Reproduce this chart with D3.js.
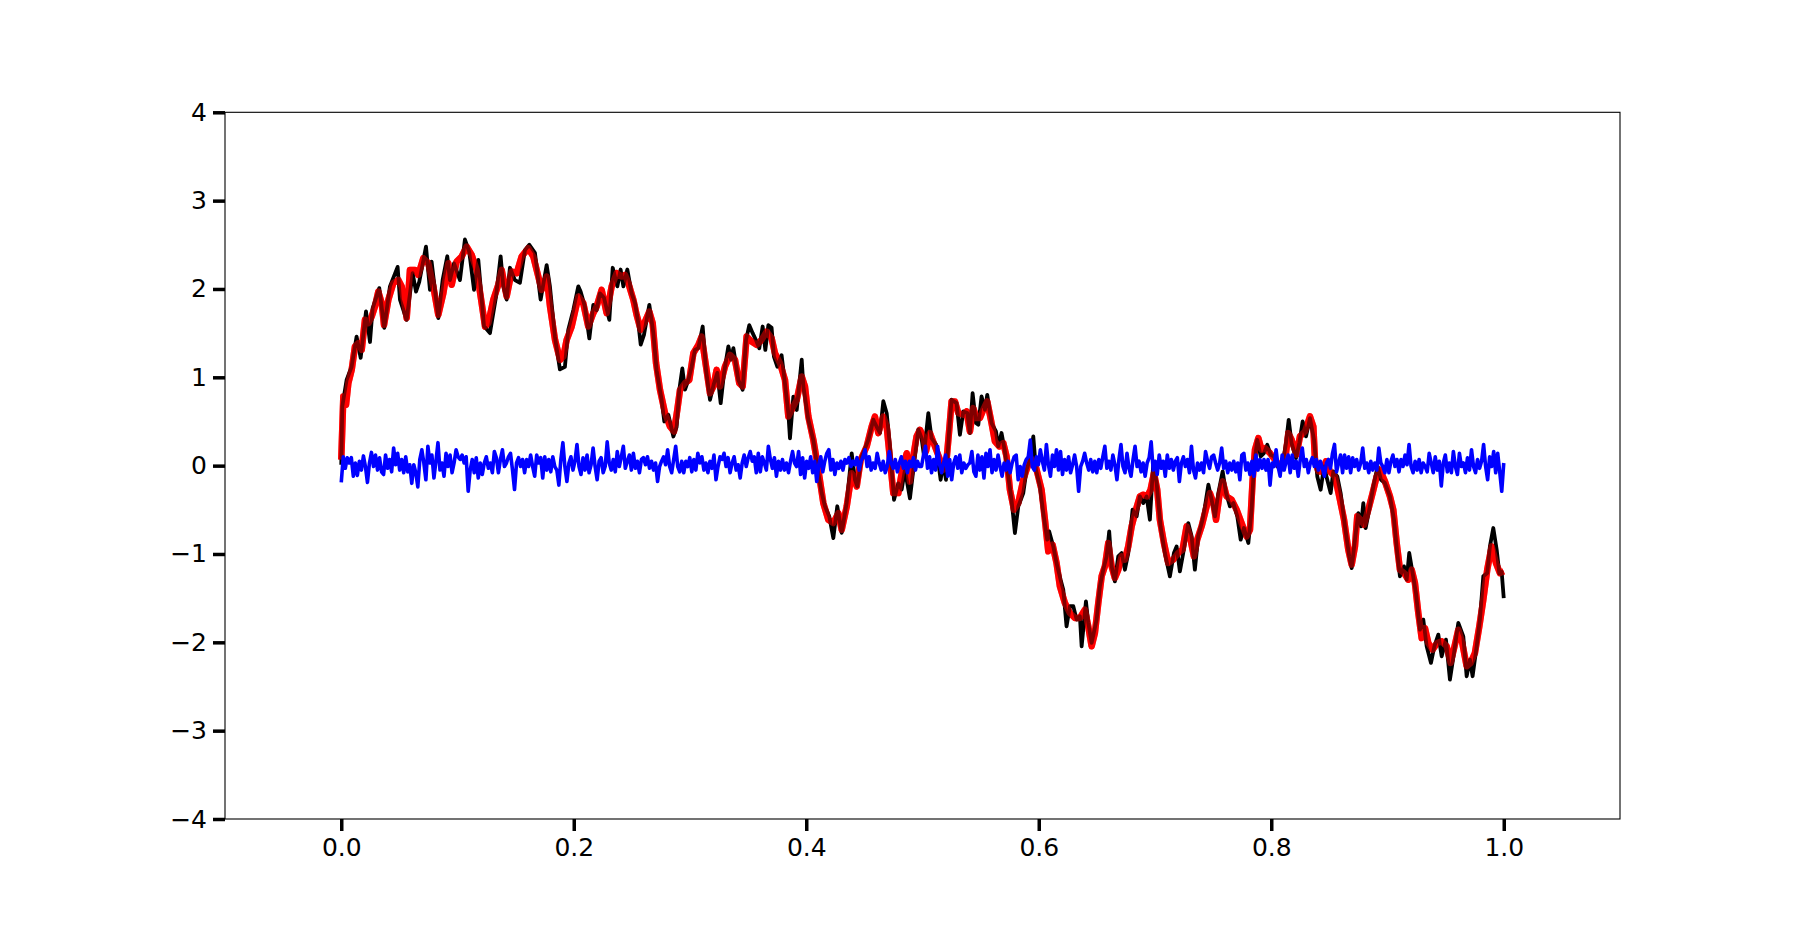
<!DOCTYPE html>
<html>
<head>
<meta charset="utf-8">
<script src="https://cdn.jsdelivr.net/npm/d3@7"></script>
<style>
  html, body { margin: 0; padding: 0; background: #fff; }
  svg { display: block; }
  .tick text { font-family: "DejaVu Sans", sans-serif; font-size: 25px; fill: #000; }
</style>
</head>
<body>
<div class="visualisation"></div>
<script>
// figure size and matplotlib-like subplot box
const wdth = 1800;
const hght = 936;
const margin = {left: 225, right: 180, top: 112.3, bottom: 117};

// tick values
const xTicks = [0.0, 0.2, 0.4, 0.6, 0.8, 1.0];
const yTicks = [-4, -3, -2, -1, 0, 1, 2, 3, 4];

// smoothed estimate (red) as [t, value]
const redPts = [
  [0, 0.067], [0.0018, 0.783], [0.0041, 0.689], [0.0061, 0.934], [0.0090, 1.085], [0.0118, 1.349],
  [0.0147, 1.387], [0.0176, 1.311], [0.0204, 1.651], [0.0233, 1.613], [0.0262, 1.688], [0.0290, 1.802],
  [0.0319, 1.971], [0.0348, 1.839], [0.0368, 1.594], [0.0405, 1.877], [0.0448, 2.066], [0.0491, 2.103],
  [0.0520, 2.028], [0.0563, 1.670], [0.0591, 2.216], [0.0634, 2.216], [0.0663, 2.160], [0.0706, 2.348],
  [0.0749, 2.292], [0.0792, 2.028], [0.0835, 1.707], [0.0878, 1.952], [0.0921, 2.292], [0.0950, 2.047],
  [0.0993, 2.311], [0.1036, 2.367], [0.1079, 2.480], [0.1122, 2.386], [0.1165, 2.216], [0.1208, 1.839],
  [0.1237, 1.575], [0.1265, 1.613], [0.1308, 1.877], [0.1351, 2.047], [0.1380, 2.216], [0.1423, 1.915],
  [0.1466, 2.198], [0.1509, 2.179], [0.1552, 2.367], [0.1609, 2.461], [0.1652, 2.367], [0.1695, 2.141],
  [0.1724, 1.990], [0.1767, 2.141], [0.1796, 1.802], [0.1839, 1.424], [0.1882, 1.198], [0.1911, 1.236],
  [0.1939, 1.424], [0.1982, 1.575], [0.2040, 1.915], [0.2082, 1.839], [0.2125, 1.575], [0.2168, 1.726],
  [0.2197, 1.802], [0.2240, 1.990], [0.2283, 1.726], [0.2326, 2.028], [0.2369, 2.179], [0.2412, 2.141],
  [0.2441, 2.160], [0.2470, 2.065], [0.2513, 1.876], [0.2541, 1.707], [0.2576, 1.537], [0.2613, 1.631],
  [0.2650, 1.744], [0.2679, 1.612], [0.2708, 1.160], [0.2742, 0.858], [0.2785, 0.594], [0.2828, 0.443],
  [0.2862, 0.387], [0.2891, 0.632], [0.2914, 0.858], [0.2957, 0.934], [0.2994, 0.971], [0.3029, 1.273],
  [0.3072, 1.367], [0.3100, 1.461], [0.3138, 1.122], [0.3172, 0.820], [0.3201, 0.896], [0.3229, 1.084],
  [0.3258, 0.896], [0.3301, 1.122], [0.3344, 1.254], [0.3387, 1.197], [0.3424, 0.934], [0.3453, 0.896],
  [0.3487, 1.461], [0.3530, 1.405], [0.3573, 1.367], [0.3616, 1.424], [0.3659, 1.518], [0.3702, 1.443],
  [0.3731, 1.273], [0.3774, 1.160], [0.3817, 0.971], [0.3846, 0.556], [0.3875, 0.632], [0.3918, 0.745],
  [0.3961, 1.009], [0.3989, 0.896], [0.4018, 0.556], [0.4061, 0.292], [0.4104, -0.047], [0.4147, -0.424],
  [0.4190, -0.613], [0.4233, -0.650], [0.4276, -0.537], [0.4305, -0.726], [0.4348, -0.462], [0.4391, -0.085],
  [0.4434, -0.235], [0.4468, 0.066], [0.4520, 0.217], [0.4563, 0.443], [0.4591, 0.556], [0.4620, 0.368],
  [0.4663, 0.556], [0.4692, 0.443], [0.4715, 0.141], [0.4749, -0.311], [0.4792, -0.311], [0.4821, -0.085],
  [0.4864, 0.141], [0.4892, -0.180], [0.4921, 0.105], [0.4949, 0.331], [0.4978, 0.406], [0.5007, 0.331],
  [0.5030, 0.161], [0.5064, 0.369], [0.5107, 0.218], [0.5150, 0.067], [0.5179, -0.046], [0.5207, 0.067],
  [0.5230, 0.406], [0.5250, 0.727], [0.5279, 0.727], [0.5308, 0.595], [0.5351, 0.576], [0.5379, 0.614],
  [0.5408, 0.387], [0.5437, 0.651], [0.5465, 0.538], [0.5494, 0.538], [0.5523, 0.633], [0.5557, 0.727],
  [0.5594, 0.482], [0.5623, 0.274], [0.5660, 0.218], [0.5695, 0.255], [0.5723, 0.105], [0.5752, -0.272],
  [0.5787, -0.499], [0.5824, -0.423], [0.5867, -0.159], [0.5895, -0.046], [0.5930, 0.086], [0.5967, 0.029],
  [0.5996, -0.122], [0.6024, -0.272], [0.6053, -0.612], [0.6082, -0.970], [0.6119, -0.895], [0.6153, -1.102],
  [0.6182, -1.366], [0.6225, -1.555], [0.6268, -1.668], [0.6311, -1.724], [0.6354, -1.724], [0.6397, -1.630],
  [0.6426, -1.819], [0.6455, -2.045], [0.6483, -1.894], [0.6512, -1.555], [0.6541, -1.253], [0.6569, -1.140],
  [0.6598, -0.876], [0.6627, -1.140], [0.6655, -1.272], [0.6684, -1.178], [0.6713, -1.027], [0.6741, -1.064],
  [0.6770, -0.914], [0.6799, -0.687], [0.6836, -0.499], [0.6870, -0.348], [0.6899, -0.329], [0.6933, -0.348],
  [0.6962, -0.272], [0.6991, -0.084], [0.7019, -0.272], [0.7042, -0.612], [0.7077, -0.876], [0.7114, -1.102],
  [0.7157, -1.064], [0.7200, -0.989], [0.7237, -0.951], [0.7272, -0.687], [0.7300, -0.800], [0.7335, -1.027],
  [0.7363, -0.838], [0.7401, -0.687], [0.7444, -0.461], [0.7472, -0.310], [0.7502, -0.424], [0.7525, -0.612],
  [0.7553, -0.348], [0.7582, -0.178], [0.7616, -0.348], [0.7659, -0.386], [0.7702, -0.499], [0.7745, -0.650],
  [0.7788, -0.801], [0.7817, -0.725], [0.7840, -0.160], [0.7860, 0.180], [0.7889, 0.312], [0.7917, 0.180],
  [0.7946, 0.199], [0.7989, 0.142], [0.8032, 0.067], [0.8075, -0.009], [0.8118, 0.048], [0.8147, 0.368],
  [0.8175, 0.293], [0.8218, 0.123], [0.8247, 0.331], [0.8290, 0.387], [0.8333, 0.557], [0.8362, 0.444],
  [0.8376, 0.067], [0.8405, -0.065], [0.8442, -0.065], [0.8471, 0.048], [0.8505, -0.065], [0.8548, -0.122],
  [0.8591, -0.386], [0.8626, -0.612], [0.8663, -0.952], [0.8692, -1.121], [0.8720, -0.914], [0.8740, -0.574],
  [0.8769, -0.612], [0.8798, -0.669], [0.8835, -0.499], [0.8872, -0.310], [0.8907, -0.122], [0.8935, -0.046],
  [0.8978, -0.178], [0.9021, -0.348], [0.9050, -0.499], [0.9079, -0.876], [0.9107, -1.178], [0.9142, -1.216],
  [0.9179, -1.291], [0.9208, -1.178], [0.9236, -1.329], [0.9265, -1.668], [0.9294, -1.951], [0.9322, -1.838],
  [0.9351, -2.007], [0.9388, -2.083], [0.9428, -2.007], [0.9466, -1.989], [0.9509, -2.045], [0.9543, -2.233],
  [0.9580, -2.026], [0.9609, -1.857], [0.9643, -2.007], [0.9681, -2.271], [0.9715, -2.233], [0.9752, -2.120],
  [0.9790, -1.819], [0.9824, -1.517], [0.9858, -1.178], [0.9896, -0.914], [0.9933, -1.102], [0.9967, -1.216],
  [1.0, -1.197]
];

// noisy signal (black) as [t, value]
const blackPts = [
  [0, 0.01], [0.0009, 0.67], [0.0046, 0.97], [0.0089, 1.12], [0.0132, 1.46], [0.0167, 1.22],
  [0.0213, 1.745], [0.0247, 1.40], [0.0270, 1.78], [0.0327, 2.01], [0.0370, 1.56], [0.0419, 2.03],
  [0.0485, 2.25], [0.0505, 1.88], [0.0562, 1.65], [0.0614, 2.18], [0.0643, 1.97], [0.0671, 2.08],
  [0.0729, 2.48], [0.0763, 1.99], [0.0777, 2.31], [0.0835, 1.67], [0.0872, 2.10], [0.0912, 2.37],
  [0.0935, 2.10], [0.0970, 2.29], [0.1021, 2.10], [0.1064, 2.56], [0.1101, 2.42], [0.1142, 1.99],
  [0.1179, 2.33], [0.1228, 1.58], [0.1279, 1.50], [0.1331, 1.91], [0.1371, 2.37], [0.1394, 2.03],
  [0.1423, 1.88], [0.1451, 2.24], [0.1494, 2.10], [0.1537, 2.07], [0.1580, 2.44], [0.1618, 2.50],
  [0.1666, 2.41], [0.1715, 1.88], [0.1767, 2.27], [0.1795, 2.03], [0.1838, 1.46], [0.1881, 1.09],
  [0.1924, 1.12], [0.1953, 1.54], [0.1996, 1.76], [0.2039, 2.03], [0.2059, 1.97], [0.2096, 1.80],
  [0.2134, 1.44], [0.2168, 1.82], [0.2197, 1.76], [0.2225, 1.95], [0.2260, 1.90], [0.2306, 1.65],
  [0.2335, 2.24], [0.2375, 2.03], [0.2403, 2.22], [0.2427, 2.03], [0.2461, 2.22], [0.2498, 1.95],
  [0.2527, 1.84], [0.2556, 1.61], [0.2576, 1.37], [0.2604, 1.48], [0.2650, 1.82], [0.2685, 1.50],
  [0.2713, 1.08], [0.2756, 0.745], [0.2779, 0.50], [0.2814, 0.575], [0.2857, 0.33], [0.2885, 0.44],
  [0.2908, 0.86], [0.2934, 1.10], [0.2957, 0.86], [0.2986, 0.97], [0.3014, 1.12], [0.3043, 1.31],
  [0.3072, 1.33], [0.3109, 1.575], [0.3138, 1.085], [0.3172, 0.745], [0.3206, 0.93], [0.3235, 1.05],
  [0.3264, 0.707], [0.3293, 1.05], [0.3330, 1.35], [0.3353, 1.20], [0.3373, 1.33], [0.3416, 0.97],
  [0.3453, 0.86], [0.3482, 1.42], [0.3510, 1.59], [0.3539, 1.50], [0.3568, 1.42], [0.3596, 1.33],
  [0.3625, 1.575], [0.3648, 1.31], [0.3674, 1.59], [0.3702, 1.56], [0.3722, 1.235], [0.3751, 1.12],
  [0.3788, 1.25], [0.3817, 0.93], [0.3846, 0.594], [0.3860, 0.31], [0.3889, 0.78], [0.3918, 0.63],
  [0.3961, 1.20], [0.3975, 0.90], [0.4018, 0.52], [0.4061, 0.29], [0.4104, -0.085], [0.4133, -0.31],
  [0.4161, -0.46], [0.4198, -0.575], [0.4233, -0.82], [0.4267, -0.46], [0.4305, -0.76], [0.4348, -0.42],
  [0.4391, 0.14], [0.4419, -0.16], [0.4439, -0.235], [0.4477, 0.10], [0.4534, 0.29], [0.4577, 0.52],
  [0.4606, 0.44], [0.4634, 0.37], [0.4663, 0.73], [0.4692, 0.594], [0.4720, 0.217], [0.4755, -0.386],
  [0.4792, -0.20], [0.4821, -0.27], [0.4849, -0.047], [0.4892, -0.37], [0.4935, 0.105], [0.4964, 0.41],
  [0.4992, 0.31], [0.5012, 0.12], [0.5050, 0.595], [0.5078, 0.31], [0.5116, 0.24], [0.5156, -0.16],
  [0.5179, 0.03], [0.5202, -0.16], [0.5230, 0.406], [0.5250, 0.746], [0.5293, 0.708], [0.5322, 0.35],
  [0.5351, 0.614], [0.5385, 0.595], [0.5408, 0.369], [0.5431, 0.821], [0.5460, 0.482], [0.5480, 0.463],
  [0.5508, 0.783], [0.5537, 0.633], [0.5557, 0.802], [0.5594, 0.482], [0.5632, 0.387], [0.5652, 0.218],
  [0.5680, 0.369], [0.5709, 0.161], [0.5738, -0.122], [0.5766, -0.386], [0.5795, -0.763], [0.5824, -0.461],
  [0.5867, -0.310], [0.5895, -0.046], [0.5924, 0.067], [0.5953, 0.331], [0.5976, -0.046], [0.6010, -0.235],
  [0.6039, -0.537], [0.6073, -0.838], [0.6090, -0.744], [0.6125, -0.914], [0.6153, -1.102], [0.6188, -1.291],
  [0.6211, -1.404], [0.6239, -1.819], [0.6268, -1.59], [0.6297, -1.59], [0.6326, -1.743], [0.6354, -1.705],
  [0.6369, -2.045], [0.6406, -1.536], [0.6426, -1.781], [0.6455, -2.007], [0.6498, -1.743], [0.6526, -1.366],
  [0.6555, -1.178], [0.6584, -1.027], [0.6606, -0.744], [0.6627, -1.140], [0.6655, -1.310], [0.6684, -1.027],
  [0.6713, -0.989], [0.6741, -1.178], [0.6770, -0.989], [0.6807, -0.499], [0.6842, -0.574], [0.6870, -0.348],
  [0.6899, -0.423], [0.6928, -0.348], [0.6956, -0.612], [0.6985, 0.029], [0.7014, -0.197], [0.7048, -0.687],
  [0.7085, -0.989], [0.7128, -1.253], [0.7163, -0.989], [0.7186, -0.914], [0.7214, -1.197], [0.7243, -0.989],
  [0.7286, -0.650], [0.7315, -0.800], [0.7343, -1.178], [0.7372, -0.800], [0.7409, -0.612], [0.7430, -0.461],
  [0.7459, -0.216], [0.7487, -0.386], [0.7516, -0.574], [0.7545, -0.310], [0.7582, -0.065], [0.7611, -0.310],
  [0.7645, -0.461], [0.7674, -0.424], [0.7708, -0.574], [0.7737, -0.838], [0.7765, -0.706], [0.7803, -0.876],
  [0.7831, -0.499], [0.7851, -0.009], [0.7880, 0.293], [0.7909, 0.104], [0.7937, 0.142], [0.7966, 0.236],
  [0.7995, 0.123], [0.8024, 0.104], [0.8052, -0.009], [0.8089, -0.046], [0.8127, 0.255], [0.8150, 0.519],
  [0.8175, 0.255], [0.8213, 0.085], [0.8241, 0.255], [0.8270, 0.500], [0.8299, 0.331], [0.8333, 0.538],
  [0.8368, 0.293], [0.8396, -0.122], [0.8425, -0.273], [0.8454, -0.009], [0.8482, -0.160], [0.8511, -0.310],
  [0.8534, -0.065], [0.8568, -0.122], [0.8597, -0.310], [0.8634, -0.687], [0.8671, -1.027], [0.8692, -1.159],
  [0.8720, -0.838], [0.8749, -0.537], [0.8772, -0.687], [0.8792, -0.424], [0.8812, -0.706], [0.8843, -0.499],
  [0.8878, -0.235], [0.8915, -0.009], [0.8944, -0.160], [0.8978, -0.197], [0.9021, -0.348], [0.9056, -0.612],
  [0.9084, -0.989], [0.9107, -1.253], [0.9142, -1.140], [0.9165, -1.291], [0.9187, -0.989], [0.9216, -1.216],
  [0.9245, -1.442], [0.9279, -1.857], [0.9308, -1.743], [0.9337, -2.045], [0.9374, -2.233], [0.9403, -2.045],
  [0.9437, -1.913], [0.9466, -2.158], [0.9503, -1.970], [0.9537, -2.422], [0.9572, -2.120], [0.9609, -1.781],
  [0.9652, -1.932], [0.9681, -2.384], [0.9709, -2.196], [0.9732, -2.384], [0.9767, -2.045], [0.9795, -1.743],
  [0.9824, -1.253], [0.9858, -1.216], [0.9881, -0.914], [0.9910, -0.706], [0.9939, -0.95], [0.9962, -1.22],
  [0.9982, -1.20], [1.0, -1.50]
];

// residual noise (blue), evenly sampled over [0, 1]
const blueNoise = [
  -0.19, 0.10, -0.03, 0.09, 0.03, 0.09, -0.12, 0.03, -0.11, 0.05,
  -0.05, 0.11, -0.01, -0.19, 0.03, 0.15, -0.01, 0.12, -0.05, 0.09,
  -0.07, -0.10, 0.12, -0.03, 0.07, -0.07, 0.20, 0.01, 0.14, -0.05,
  0.07, -0.08, 0.10, -0.07, 0.01, -0.20, 0.01, -0.08, -0.24, 0.07,
  0.18, 0.03, -0.16, 0.22, 0.03, 0.12, -0.14, 0.05, 0.26, -0.05,
  0.03, -0.12, 0.14, -0.01, 0.12, -0.08, 0.03, 0.18, 0.10, 0.07,
  0.12, 0.03, 0.10, -0.29, -0.05, 0.07, -0.08, 0.09, -0.14, 0.03,
  -0.10, 0.03, 0.10, -0.03, 0.03, -0.08, 0.16, 0.09, -0.08, 0.07,
  0.18, -0.01, 0.03, 0.10, 0.14, -0.05, -0.27, 0.03, 0.09, -0.01,
  0.07, -0.08, 0.07, -0.01,
  0.12, -0.01, -0.12, 0.12, 0.03, 0.09, -0.14, 0.10, -0.05, 0.07,
  -0.07, 0.10, -0.01, -0.05, -0.22, 0.07, 0.26, -0.01, -0.18, 0.03,
  0.10, -0.05, 0.05, 0.24, -0.01, -0.10, 0.09, -0.05, 0.12, -0.08,
  0.01, 0.20, -0.01, -0.16, 0.05, 0.09, -0.08, -0.01, 0.27, 0.03,
  -0.05, 0.07, -0.07, 0.16, -0.01, 0.10, 0.22, -0.03, 0.05, 0.12,
  -0.05, 0.14, -0.03, 0.05, -0.08, 0.07, 0.09, 0.01, 0.10, -0.03,
  0.05, -0.05, 0.03, -0.18, -0.01, 0.05, 0.10, 0.01, 0.18, -0.01,
  -0.08, 0.07, 0.22, -0.01, -0.07, 0.05, -0.08, 0.05, -0.01, 0.09,
  -0.07, 0.07, -0.05, 0.14, 0.03, 0.10, -0.05, 0.03, -0.08, 0.05,
  -0.03, 0.12, -0.16, -0.01, 0.10, 0.07, 0.14,
  -0.01, 0.09, -0.08, 0.03, 0.10, -0.05, 0.01, -0.14, 0.03, 0.12,
  -0.01, 0.09, 0.16, 0.05, 0.10, -0.08, 0.14, -0.07, 0.10, 0.03,
  -0.05, 0.22, 0.07, -0.03, 0.09, -0.12, 0.05, -0.05, 0.07, -0.05,
  0.03, -0.08, 0.05, 0.16, 0.03, -0.01, 0.16, -0.10, 0.09, -0.14,
  0.05, -0.03, 0.10, -0.08, 0.05, -0.18, 0.01, 0.10, -0.07, 0.05,
  0.14, 0.18, -0.05, 0.07, -0.10, 0.03, -0.03, 0.05, -0.05, 0.07,
  0.03, 0.09, -0.01, 0.05, 0.01, 0.09, -0.05, 0.05, 0.10, 0.18,
  -0.01, 0.10, -0.05, 0.03, -0.03, 0.14, 0.03, -0.05, 0.05, -0.08,
  -0.01, 0.16, 0.03, -0.03, 0.07, -0.07, 0.03, 0.10, -0.03, 0.05,
  -0.08, 0.05, -0.01, 0.09, -0.05, 0.05, -0.01,
  -0.01, 0.12, 0.22, -0.03, 0.10, -0.08, 0.07, -0.05, 0.22, 0.01,
  -0.08, 0.03, 0.12, -0.12, 0.07, -0.16, 0.03, 0.10, -0.03, 0.12,
  -0.08, 0.03, -0.03, 0.01, 0.03, 0.16, -0.07, -0.12, 0.12, -0.05,
  0.10, -0.14, 0.14, -0.01, 0.18, -0.08, 0.07, -0.05, 0.12, -0.01,
  -0.12, 0.03, -0.05, 0.05, -0.08, 0.03, 0.10, 0.12, -0.16, -0.01,
  -0.12, 0.01, 0.07, 0.10, 0.29, -0.01, -0.05, 0.10, 0.01, 0.18,
  0.05, -0.05, 0.24, 0.01, -0.12, 0.12, -0.01, 0.18, -0.05, 0.16,
  -0.10, 0.07, -0.05, 0.10, -0.08, 0.01, 0.12, -0.01, -0.29, -0.01,
  0.05, 0.14, 0.03, -0.05, 0.07, -0.07, 0.05, -0.08, 0.07, -0.03,
  0.10, 0.22, -0.03, 0.05, -0.05, 0.12, 0.01, -0.16, 0.07, 0.24,
  -0.01, -0.08, 0.14, -0.03, -0.12, 0.07, 0.22, -0.01, 0.05, -0.07,
  0.03, -0.12, 0.03, 0.09, 0.27, -0.05, 0.05, -0.10, 0.12, -0.03,
  0.05, -0.12, 0.12, -0.03, 0.07, -0.05, 0.05, 0.09, -0.18, 0.03,
  0.10, -0.01, 0.07, -0.08, 0.22, -0.05, -0.14, 0.03, -0.05, 0.03,
  -0.08, 0.16, 0.05, -0.03, 0.10,
  0.12, 0.03, -0.05, 0.03, 0.20, -0.03, 0.05, -0.08, 0.03, -0.05,
  0.05, -0.07, 0.03, -0.16, 0.12, 0.14, -0.05, 0.03, -0.10, 0.05,
  -0.12, 0.12, -0.05, 0.07, -0.03, 0.07, -0.05, 0.07, -0.22, 0.03,
  -0.01, 0.18, -0.01, -0.12, 0.12, -0.05, 0.05, 0.12, -0.08, 0.12,
  -0.03, 0.05, -0.12, 0.07, 0.20, -0.01, 0.07, -0.08, 0.03, 0.09,
  -0.01, 0.07, -0.05, 0.05, -0.03, -0.12, 0.03, 0.07, -0.03, 0.14,
  0.24, -0.07, 0.03, 0.12, -0.08, 0.12, -0.03, 0.10, -0.08, 0.09,
  -0.01, 0.07, -0.05, 0.03, 0.20, -0.03, 0.03, -0.08, 0.05, -0.05,
  0.03, -0.05, 0.20, 0.03, -0.01, -0.08, 0.07, -0.08, 0.05, 0.12,
  -0.01, 0.07, -0.07, 0.07, -0.01, 0.12, 0.01, 0.24, -0.01, -0.08,
  0.05, -0.05, 0.07, -0.08, 0.03, -0.01, -0.07, 0.14, 0.03, -0.08,
  0.10, -0.05, 0.05, -0.23, 0.03, 0.12, -0.07, 0.03, -0.08, 0.16,
  -0.01, -0.10, 0.14, -0.01, 0.03, -0.08, 0.09, -0.05, 0.18, -0.01,
  -0.08, 0.07, -0.03, 0.05, 0.24, -0.01, -0.16, 0.10, -0.01, 0.16,
  -0.08, 0.14, -0.07, -0.29, 0.03
];

const svg = d3.select(".visualisation")
  .append("svg")
  .attr("width", wdth)
  .attr("height", hght)
  .attr("viewBox", `0 0 ${wdth} ${hght}`);

const x = d3.scaleLinear()
  .domain([-0.1, 1.1])
  .range([margin.left, wdth - margin.right]);

const y = d3.scaleLinear()
  .domain([-4, 4])
  .range([hght - margin.bottom, margin.top]);

// blue is sampled on an even grid from 0 to 1
const blueX = d3.range(blueNoise.length).map(i => i / (blueNoise.length - 1));

const line = d3.line()
  .x(d => x(d[0]))
  .y(d => y(d[1]));

const plot = svg.append("g").attr("class", "lines");

// red underneath, then the black signal, then a half-transparent red pass
// so the overlap turns dark red like the reference
plot.append("path")
  .datum(redPts)
  .attr("fill", "none")
  .attr("stroke", "#ff0000")
  .attr("stroke-width", 6.5)
  .attr("stroke-linejoin", "round")
  .attr("d", line);

plot.append("path")
  .datum(blackPts)
  .attr("fill", "none")
  .attr("stroke", "#000")
  .attr("stroke-width", 3.8)
  .attr("stroke-linejoin", "round")
  .attr("d", line);

plot.append("path")
  .datum(redPts)
  .attr("fill", "none")
  .attr("stroke", "#ff0000")
  .attr("stroke-opacity", 0.5)
  .attr("stroke-width", 6.5)
  .attr("stroke-linejoin", "round")
  .attr("d", line);

plot.append("path")
  .datum(blueNoise.map((v, i) => [blueX[i], v]))
  .attr("fill", "none")
  .attr("stroke", "#0000ff")
  .attr("stroke-width", 3.6)
  .attr("stroke-linejoin", "round")
  .attr("d", line);

// frame
svg.append("rect")
  .attr("x", x(-0.1))
  .attr("y", y(4))
  .attr("width", x(1.1) - x(-0.1))
  .attr("height", y(-4) - y(4))
  .attr("fill", "none")
  .attr("stroke", "#000")
  .attr("stroke-width", 1.1);

// axes, matplotlib look: thick outward ticks, no domain line
const fmtY = d => (d < 0 ? "\u2212" + Math.abs(d) : String(d));

const xAxis = svg.append("g")
  .attr("transform", `translate(0,${y(-4)})`)
  .call(d3.axisBottom(x)
    .tickValues(xTicks)
    .tickFormat(d3.format(".1f"))
    .tickSize(12)
    .tickPadding(7));

const yAxis = svg.append("g")
  .attr("transform", `translate(${x(-0.1)},0)`)
  .call(d3.axisLeft(y)
    .tickValues(yTicks)
    .tickFormat(fmtY)
    .tickSize(12)
    .tickPadding(6));

[xAxis, yAxis].forEach(g => {
  g.select(".domain").remove();
  g.selectAll(".tick line")
    .attr("stroke", "#000")
    .attr("stroke-width", 3.5);
  g.selectAll(".tick text").attr("font-family", null).attr("font-size", null);
});
</script>
</body>
</html>
